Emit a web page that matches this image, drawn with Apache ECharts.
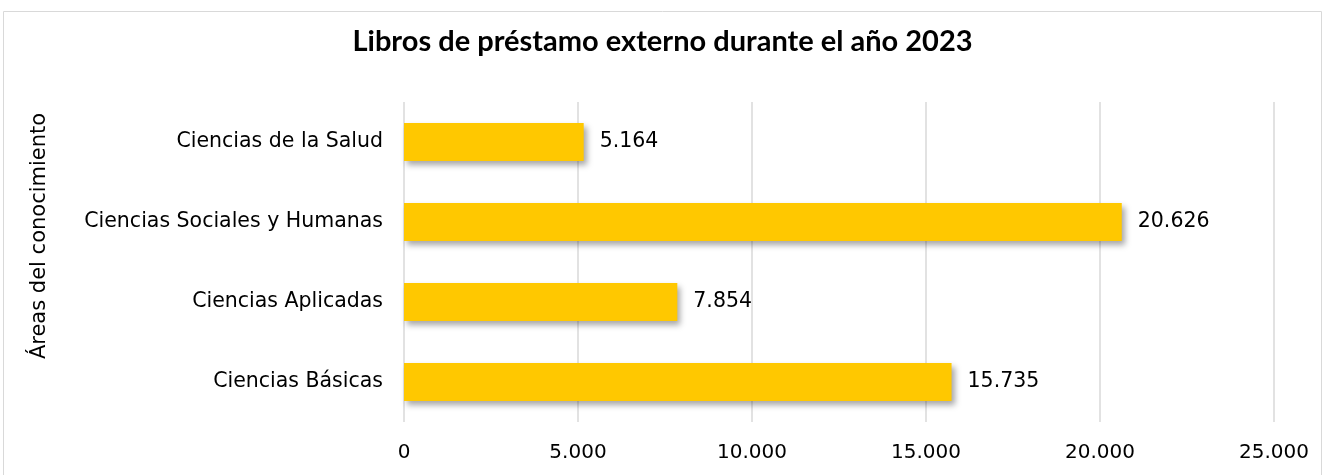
<!DOCTYPE html>
<html><head><meta charset="utf-8">
<script src="https://cdn.jsdelivr.net/npm/echarts@6/dist/echarts.min.js"></script>
<style>html,body{margin:0;padding:0;background:#fff}#c{width:1325px;height:475px}</style>
</head><body><div id="c"></div>
<script>
const categories = ["Ciencias Básicas", "Ciencias Aplicadas", "Ciencias Sociales y Humanas", "Ciencias de la Salud"];
const values = [15735, 7854, 20626, 5164];
const xTicks = [0, 5000, 10000, 15000, 20000, 25000];
const titleText = "Libros de préstamo externo durante el año 2023";
const yAxisTitle = "Áreas del conocimiento";

function fmt(v) { return String(v).replace(/\B(?=(\d{3})+(?!\d))/g, "."); }

const chart = echarts.init(document.getElementById('c'));
chart.setOption({
  animation: false,
  graphic: [
    { type: 'rect', shape: { x: 3.5, y: 11.5, width: 1318, height: 470 }, style: { fill: 'none', stroke: '#d9d9d9', lineWidth: 1 }, silent: true },
    { type: 'text', x: 40, y: 236, rotation: Math.PI / 2, style: { text: yAxisTitle, font: '21px "DejaVu Sans"', fill: '#000', align: 'center', verticalAlign: 'middle' }, silent: true }
  ],
  title: { text: titleText, left: 'center', top: 22, textStyle: { fontFamily: 'Lato', fontWeight: 'bold', fontSize: 29, color: '#000' } },
  grid: { left: 404, right: 51, top: 102, bottom: 53, containLabel: false },
  xAxis: {
    type: 'value', min: xTicks[0], max: xTicks[xTicks.length - 1], interval: 5000,
    axisLine: { show: false }, axisTick: { show: false },
    splitLine: { lineStyle: { color: '#d9d9d9', width: 1.5 } },
    axisLabel: { formatter: fmt, fontFamily: 'DejaVu Sans', fontSize: 20, color: '#000', margin: 21 }
  },
  yAxis: {
    type: 'category', data: categories,
    axisLine: { show: false }, axisTick: { show: false },
    axisLabel: { fontFamily: 'DejaVu Sans', fontSize: 20.5, color: '#000', margin: 21 }
  },
  series: [{
    type: 'bar', data: values, barWidth: 38,
    itemStyle: { color: '#FFC800', shadowColor: 'rgba(0,0,0,0.35)', shadowBlur: 6, shadowOffsetX: 3, shadowOffsetY: 4 },
    label: { show: true, position: 'right', distance: 16, formatter: p => fmt(p.value), fontFamily: 'DejaVu Sans', fontSize: 20.5, color: '#000' }
  }]
});
</script></body></html>
